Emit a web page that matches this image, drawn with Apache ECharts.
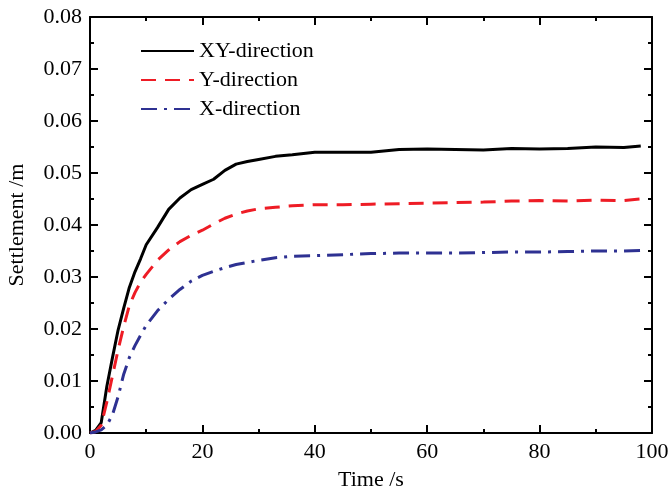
<!DOCTYPE html>
<html>
<head>
<meta charset="utf-8">
<script src="https://cdn.jsdelivr.net/npm/echarts@6/dist/echarts.min.js"></script>
<style>
  html, body { margin: 0; padding: 0; background: #fff; }
  #chart { width: 669px; height: 494px; }
</style>
</head>
<body>
<div id="chart"></div>
<script>
// time points (s)
const times = [0, 1, 2, 3, 4, 5, 6, 7, 8, 9, 10, 12, 14, 16, 18, 20, 22, 24, 26, 28, 30,
  33, 36, 40, 45, 50, 55, 60, 65, 70, 75, 80, 85, 90, 95, 98];

// settlement (m)
const xyDir = [0, 0.0005, 0.002, 0.009, 0.0145, 0.0198, 0.024, 0.028, 0.031, 0.0335, 0.0362,
  0.0395, 0.043, 0.0452, 0.0468, 0.0478, 0.0488, 0.0505, 0.0517, 0.0522, 0.0526,
  0.0532, 0.0535, 0.054, 0.054, 0.054, 0.0545, 0.0546, 0.0545, 0.0544, 0.0547, 0.0546,
  0.0547, 0.055, 0.0549, 0.0552];
const yDir = [0, 0.0003, 0.0015, 0.006, 0.011, 0.016, 0.0205, 0.0245, 0.027, 0.029, 0.0305,
  0.0332, 0.0352, 0.0368, 0.038, 0.039, 0.0402, 0.0413, 0.0421, 0.0427, 0.0431,
  0.0434, 0.0437, 0.0439, 0.0439, 0.044, 0.0441, 0.0442, 0.0443, 0.0444, 0.0446, 0.0447,
  0.0446, 0.0448, 0.0447, 0.045];
const xDir = [0, 0.0002, 0.0006, 0.0015, 0.0035, 0.007, 0.0113, 0.0145, 0.0168, 0.0188, 0.0207,
  0.0235, 0.0257, 0.0276, 0.0292, 0.0303, 0.0311, 0.0318, 0.0324, 0.0328, 0.0332,
  0.0337, 0.034, 0.0341, 0.0343, 0.0345, 0.0346, 0.0346, 0.0346, 0.0347, 0.0348, 0.0348,
  0.0349, 0.035, 0.035, 0.0351];

const font = 'Liberation Serif';
const pairs = vals => times.map((t, i) => [t, vals[i]]);

const chart = echarts.init(document.getElementById('chart'));

const axisCommon = {
  axisLine: { show: true, onZero: false, lineStyle: { color: '#000', width: 2 } },
  axisTick: { show: true, inside: true, length: 8, lineStyle: { color: '#000', width: 2 } },
  minorTick: { show: true, splitNumber: 2, length: 4, lineStyle: { color: '#000', width: 2 } },
  splitLine: { show: false }
};

chart.setOption({
  animation: false,
  textStyle: { fontFamily: font },
  grid: { left: 90, right: 17, top: 17, bottom: 61, outerBoundsMode: 'none' },
  legend: {
    left: 135,
    top: 35,
    orient: 'vertical',
    itemWidth: 53,
    itemHeight: 20,
    itemGap: 7,
    itemStyle: { opacity: 0 },
    textStyle: { fontFamily: font, fontSize: 22, color: '#000' },
    data: ['XY-direction', 'Y-direction', 'X-direction']
  },
  xAxis: [{
    type: 'value',
    min: 0, max: 100, interval: 20,
    name: 'Time /s',
    nameLocation: 'middle',
    nameGap: 36,
    nameTextStyle: { fontFamily: font, fontSize: 22, color: '#000' },
    axisLabel: { fontFamily: font, fontSize: 22, color: '#000', margin: 8 },
    ...axisCommon
  }, {
    type: 'value', position: 'top',
    min: 0, max: 100, interval: 20,
    axisLabel: { show: false },
    ...axisCommon
  }],
  yAxis: [{
    type: 'value',
    min: 0, max: 0.08, interval: 0.01,
    name: 'Settlement /m',
    nameLocation: 'middle',
    nameGap: 62,
    nameTextStyle: { fontFamily: font, fontSize: 22, color: '#000' },
    axisLabel: {
      fontFamily: font, fontSize: 22, color: '#000', margin: 8,
      formatter: v => v.toFixed(2)
    },
    ...axisCommon
  }, {
    type: 'value', position: 'right',
    min: 0, max: 0.08, interval: 0.01,
    axisLabel: { show: false },
    ...axisCommon
  }],
  series: [{
    name: 'XY-direction',
    type: 'line',
    symbol: 'none',
    data: pairs(xyDir),
    lineStyle: { color: '#000', width: 3 },
    itemStyle: { color: '#000' }
  }, {
    name: 'Y-direction',
    type: 'line',
    symbol: 'none',
    data: pairs(yDir),
    lineStyle: { color: '#ee1c25', width: 3, type: [15, 9] },
    itemStyle: { color: '#ee1c25' }
  }, {
    name: 'X-direction',
    type: 'line',
    symbol: 'none',
    data: pairs(xDir),
    lineStyle: { color: '#2e3192', width: 3, type: [16, 7, 3, 7] },
    itemStyle: { color: '#2e3192' }
  }]
});
</script>
</body>
</html>
